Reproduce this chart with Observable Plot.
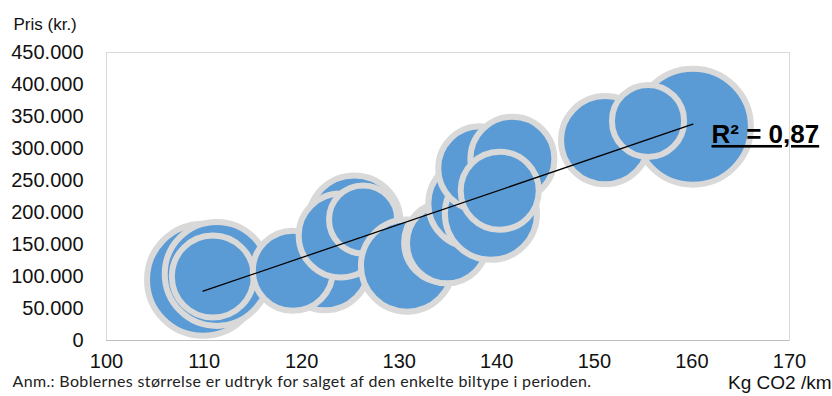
<!DOCTYPE html>
<html>
<head>
<meta charset="utf-8">
<script src="https://cdn.jsdelivr.net/npm/d3@7"></script>
<script src="https://cdn.jsdelivr.net/npm/@observablehq/plot@0.6"></script>
<style>
  html, body { margin: 0; padding: 0; background: #fff; }
</style>
</head>
<body>
<div id="chart"></div>
<script>
// CO2 (kg/km), price (kr.) and sales (bubble size) per car model
const co2   = [109.9, 111.3, 110.9, 122.4, 119.1, 125.4, 124.0, 126.3, 130.8, 134.6, 134.9, 137.5, 139.4, 138.3, 141.6, 140.3, 151.1, 160.1, 155.5];
const price = [95000, 104000, 100000, 116000, 109000, 186000, 164000, 189000, 117000, 153000, 152000, 214000, 198000, 269000, 284000, 234000, 313000, 334000, 343000];
const sales = [3140, 2700, 1680, 1940, 1600, 2120, 1760, 1160, 2120, 1600, 1600, 1940, 2120, 1760, 1760, 1520, 1940, 3360, 1300];

const xTicks = [100, 110, 120, 130, 140, 150, 160, 170];
const yTicks = [0, 50000, 100000, 150000, 200000, 250000, 300000, 350000, 400000, 450000];

const yTitle = "Pris (kr.)";
const xTitle = "Kg CO2 /km";
const r2Label = "R² = 0,87";
const note = "Anm.: Boblernes størrelse er udtryk for salget af den enkelte biltype i perioden.";

const data = co2.map((c, i) => ({co2: c, price: price[i], sales: sales[i]}));
const fmt = d3.formatLocale({decimal: ",", thousands: ".", grouping: [3], currency: ["", " kr."]}).format(",d");

const chart = Plot.plot({
  width: 832,
  height: 396,
  marginLeft: 106,
  marginRight: 43,
  marginTop: 52,
  marginBottom: 56,
  style: {fontFamily: "'Liberation Sans', Arial, sans-serif", background: "#fff", color: "#111"},
  x: {domain: [100, 170]},
  y: {domain: [0, 450000]},
  r: {range: [0, 58]},
  marks: [
    Plot.frame({stroke: "#d9d9d9"}),
    Plot.ruleY([0], {stroke: "#bfbfbf"}),
    Plot.dot(data, {x: "co2", y: "price", r: "sales", fill: "#5b9bd5", stroke: "#d9d9d9", strokeWidth: 6, sort: null}),
    Plot.linearRegressionY(data, {x: "co2", y: "price", stroke: "#000", strokeWidth: 1.3, ci: 0}),
    Plot.axisX({ticks: xTicks, tickSize: 0, tickPadding: 13, fontSize: 20, label: null, fill: "#111"}),
    Plot.axisY({ticks: yTicks, tickFormat: fmt, tickSize: 0, tickPadding: 23, fontSize: 20, label: null, fill: "#111"}),
    Plot.text([yTitle], {frameAnchor: "top-left", textAnchor: "start", dx: -93, dy: -35, fontSize: 17, fill: "#111"}),
    Plot.text([r2Label], {frameAnchor: "top-right", textAnchor: "start", dx: -78, dy: 72, fontSize: 26, fontWeight: "bold", fill: "#000", className: "r2"}),
    Plot.text([xTitle], {frameAnchor: "bottom-right", textAnchor: "end", dx: 42, dy: 48, fontSize: 19, fill: "#111"}),
    Plot.text([note], {frameAnchor: "bottom-left", textAnchor: "start", dx: -94, dy: 46, fontSize: 16, fontFamily: "Lato", fill: "#222", className: "note"})
  ]
});
d3.select(chart).selectAll(".r2 text").style("text-decoration", "underline");
d3.select(chart).selectAll(".note text").style("letter-spacing", "0.35px");
document.getElementById("chart").appendChild(chart);
</script>
</body>
</html>
